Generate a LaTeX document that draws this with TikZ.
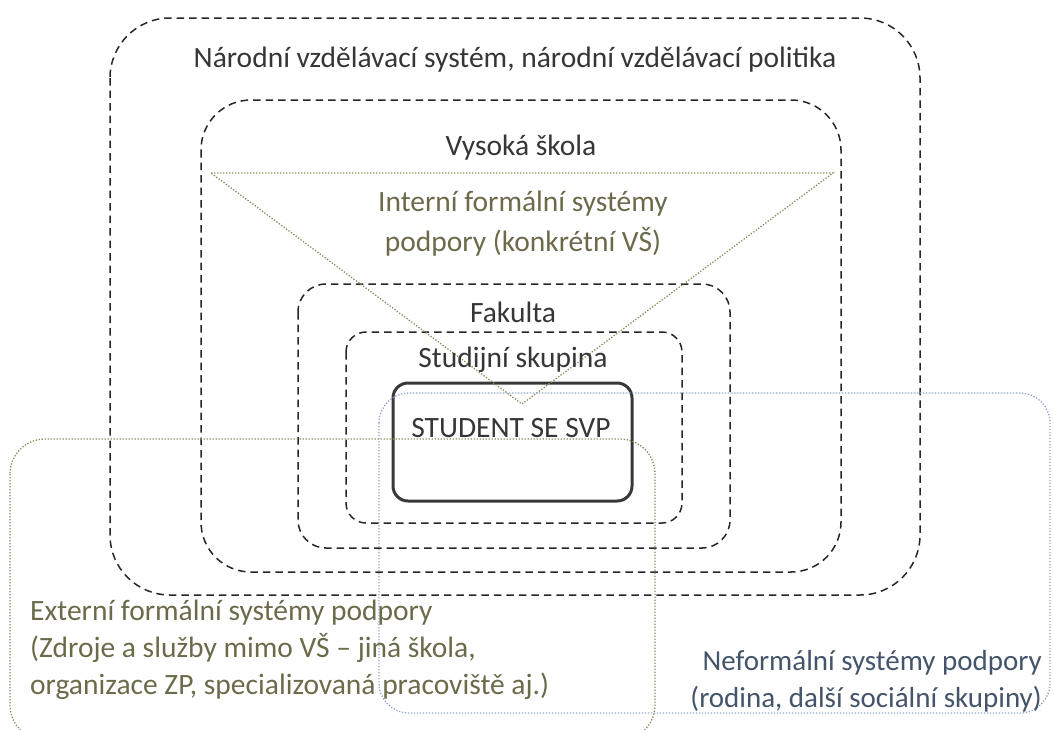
\documentclass[tikz,border=0pt]{standalone}
\usepackage{fontspec}
\setmainfont{Carlito}
\definecolor{txtdark}{HTML}{363636}
\definecolor{txtolive}{HTML}{6B6A4A}
\definecolor{txtblue}{HTML}{44546A}
\definecolor{lnolive}{HTML}{8B8A5C}
\definecolor{lnblue}{HTML}{93A3C4}
\begin{document}
\begin{tikzpicture}[x=1pt,y=-1pt,
  dbox/.style={draw=black!85, line width=1.5pt, dash pattern=on 7.5pt off 5pt},
  studbox/.style={draw=black!78, line width=3pt, rounded corners=15pt},
  olivedot/.style={draw=lnolive, line width=1.3pt, dash pattern=on 1.3pt off 1.7pt},
  bluedot/.style={draw=lnblue, line width=1.3pt, dash pattern=on 1.3pt off 1.7pt},
  lbl/.style={font=\fontsize{29.5}{38}\selectfont, text=txtdark, inner sep=0pt, anchor=base},
  olbl/.style={font=\fontsize{29.5}{37}\selectfont, text=txtolive, inner sep=0pt},
  blbl/.style={font=\fontsize{29}{37}\selectfont, text=txtblue, inner sep=0pt}
]
\useasboundingbox (0,0) rectangle (1054,729);
% nested dashed boxes
\draw[dbox, rounded corners=60pt] (110,18) rectangle (920,595);
\draw[dbox, rounded corners=50pt] (201,100) rectangle (841,572);
\draw[dbox, rounded corners=28pt] (298,284) rectangle (730,548);
\draw[dbox, rounded corners=20pt] (346,332) rectangle (682,523);
% student
\draw[studbox] (393,383) rectangle (632,501);
% internal triangle
\coordinate (tl) at (211,173);
\coordinate (tr) at (833,173);
\coordinate (tb) at (522,404);
\draw[olivedot] (tl) -- (tr) -- (tb) -- cycle;
% external (olive) and informal (blue) areas
\draw[olivedot, rounded corners=35pt] (10,439) rectangle (655,740);
\draw[bluedot, rounded corners=30pt] (379,393) rectangle (1050,713);
% labels
\node[lbl] (nar) at (515,67) {Národní vzdělávací systém, národní vzdělávací politika};
\node[lbl] (vs) at (521,155) {Vysoká škola};
\node[olbl, align=center, anchor=base, font=\fontsize{29.5}{40}\selectfont] (int) at (523,251) {Interní formální systémy\\podpory (konkrétní VŠ)};
\node[lbl] (fak) at (513,322) {Fakulta};
\node[lbl] (sk) at (513,367) {Studijní skupina};
\node[lbl] (st) at (511,437) {STUDENT SE SVP};
\node[olbl, align=left, anchor=base west] (ext) at (30,694) {Externí formální systémy podpory\\(Zdroje a služby mimo VŠ – jiná škola,\\organizace ZP, specializovaná pracoviště aj.)};
\node[blbl, align=right, anchor=base east] (nef) at (1042,707) {Neformální systémy podpory\\(rodina, další sociální skupiny)};
\end{tikzpicture}
\end{document}
